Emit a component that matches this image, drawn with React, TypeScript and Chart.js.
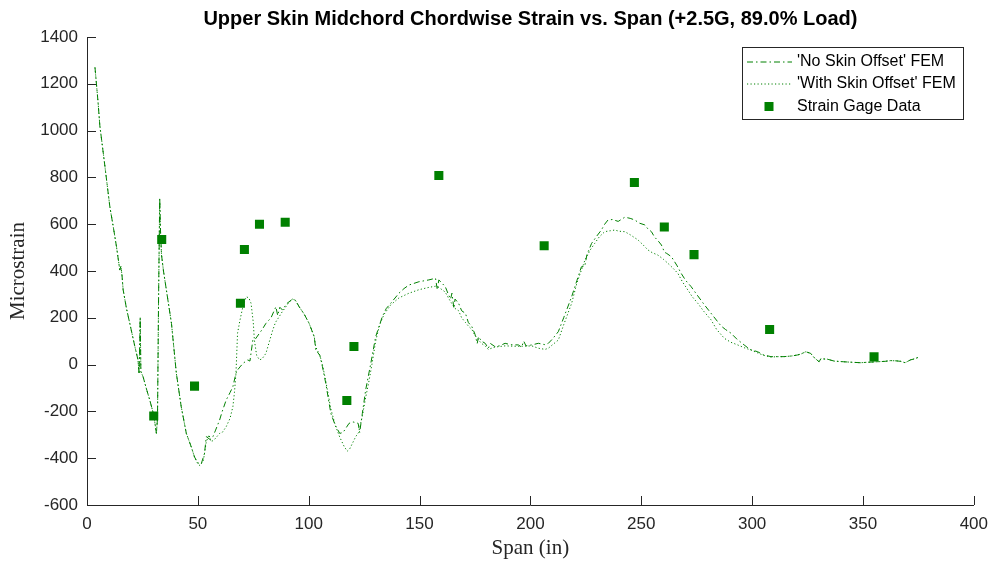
import React, { useEffect, useRef } from "react";
import { Chart, registerables } from "chart.js";

Chart.register(...registerables);

const TITLE = "Upper Skin Midchord Chordwise Strain vs. Span (+2.5G, 89.0% Load)";
const X_LABEL = "Span (in)";
const Y_LABEL = "Microstrain";
const LEGEND_LABELS = ["'No Skin Offset' FEM", "'With Skin Offset' FEM", "Strain Gage Data"];

const xTicks = [0, 50, 100, 150, 200, 250, 300, 350, 400];
const yTicks = [-600, -400, -200, 0, 200, 400, 600, 800, 1000, 1200, 1400];

const spanNoOffset = [
  3.6, 5.0, 5.8, 7.0, 8.1, 10.3, 12.0, 13.3, 14.8, 15.3, 15.8, 16.3, 17.8, 19.3, 21.6, 23.0, 23.5, 24.0, 24.3, 25.3,
  27.0, 28.3, 30.1, 31.3, 31.8, 32.3, 32.8, 33.2, 33.6, 34.5, 35.8, 38.1, 40.3, 42.5, 44.8, 47.0, 48.5, 50.0, 51.5, 53.0,
  53.8, 55.5, 56.8, 58.0, 59.8, 61.0, 62.8, 64.5, 65.8, 67.2, 67.9, 69.0, 70.3, 72.5, 73.5, 74.8, 76.0, 77.8, 79.0, 80.7,
  83.0, 85.2, 86.0, 87.0, 88.2, 90.0, 92.7, 94.0, 95.7, 98.0, 100.2, 102.5, 103.2, 105.0, 106.2, 107.7, 110.0, 112.0, 114.0, 115.5,
  118.2, 120.0, 122.3, 123.0, 124.2, 125.7, 128.0, 130.2, 133.2, 135.0, 137.0, 140.7, 143.0, 145.2, 149.7, 154.2, 157.2, 158.0, 158.7, 161.6,
  163.0, 164.0, 164.6, 165.5, 166.0, 167.6, 169.0, 170.7, 172.0, 173.6, 175.0, 176.0, 176.6, 178.0, 179.6, 181.0, 182.0, 184.0, 186.0, 188.6,
  191.0, 194.6, 196.0, 197.0, 198.0, 200.6, 203.6, 206.6, 208.1, 210.0, 212.6, 215.0, 218.6, 221.0, 223.0, 224.5, 225.5, 227.6, 230.0, 232.0,
  233.5, 235.0, 237.0, 239.6, 242.6, 245.0, 247.1, 249.0, 251.6, 253.0, 254.6, 256.0, 257.5, 259.1, 260.5, 261.5, 263.6, 266.0, 268.0, 270.0,
  272.5, 275.0, 278.5, 281.0, 284.5, 286.0, 288.0, 290.5, 293.0, 296.4, 299.0, 302.5, 305.0, 308.5, 311.5, 314.4, 318.0, 320.4, 322.0, 324.2,
  326.4, 328.0, 330.2, 331.0, 334.0, 337.0, 341.4, 345.0, 348.9, 352.0, 356.4, 360.0, 362.4, 365.0, 367.0, 369.0, 371.4, 373.0, 375.0,
];
const strainNoOffset = [
  1270, 1120, 1020, 930, 846, 675, 580, 504, 404, 420, 380, 320, 240, 176, 77, 20, -40, 200, -30, -52,
  -110, -151, -215, -294, -230, 300, 710, 560, 470, 400, 319, 176, -37, -180, -294, -351, -395, -420, -425, -380,
  -308, -320, -308, -280, -237, -200, -151, -120, -94, -37, -23, -10, 5, 20, 15, 105, 110, 134, 150, 176,
  200, 247, 210, 245, 233, 260, 280, 275, 247, 215, 176, 119, 62, 40, -9, -80, -209, -260, -294, -290,
  -251, -245, -251, -290, -208, -108, 5, 119, 205, 240, 262, 305, 325, 340, 354, 362, 369, 320, 362, 333,
  300, 280, 305, 240, 280, 262, 230, 219, 180, 162, 130, 90, 119, 100, 91, 70, 90, 77, 80, 91,
  85, 84, 75, 100, 80, 84, 91, 85, 91, 110, 141, 200, 290, 360, 418, 420, 470, 518, 550, 575,
  600, 618, 620, 612, 630, 625, 618, 605, 597, 580, 568, 545, 530, 511, 480, 475, 461, 425, 390, 360,
  333, 300, 255, 225, 183, 165, 150, 134, 110, 84, 65, 55, 42, 34, 34, 34, 37, 41, 45, 55,
  48, 30, 12, 25, 23, 15, 12, 10, 8, 10, 12, 14, 17, 16, 14, 8, 20, 24, 31,
];

const spanWithOffset = [
  3.6, 5.0, 5.8, 7.0, 8.1, 10.3, 12.0, 13.3, 14.8, 15.3, 15.8, 16.3, 17.8, 19.3, 21.6, 23.0, 23.5, 24.0, 24.3, 25.3,
  27.0, 28.3, 30.1, 31.3, 31.8, 32.3, 32.8, 33.2, 33.6, 34.5, 35.8, 38.1, 40.3, 42.5, 44.8, 47.0, 48.5, 50.0, 51.0, 52.5,
  53.8, 55.0, 56.0, 57.5, 59.8, 61.0, 62.8, 64.5, 65.8, 66.5, 67.2, 67.9, 69.0, 70.3, 71.8, 73.0, 74.0, 75.0, 75.5, 76.5,
  77.8, 79.0, 80.7, 82.0, 83.8, 85.0, 86.7, 88.0, 89.7, 91.0, 92.7, 94.0, 95.7, 98.0, 100.2, 102.5, 103.2, 105.0, 106.2, 107.7,
  110.0, 112.0, 114.0, 116.0, 117.4, 118.5, 121.2, 122.5, 124.2, 125.7, 127.0, 128.5, 130.2, 132.0, 134.0, 137.0, 140.7, 145.2, 149.7, 154.2,
  157.2, 158.7, 161.6, 163.0, 164.6, 166.0, 167.6, 169.0, 170.7, 172.0, 173.6, 175.0, 176.6, 178.0, 179.6, 181.0, 184.0, 188.6, 194.6, 200.6,
  203.6, 206.6, 208.1, 210.0, 212.6, 215.0, 218.6, 221.0, 224.6, 227.0, 229.0, 231.0, 233.5, 236.0, 238.0, 240.0, 242.6, 245.0, 248.5, 251.0,
  253.0, 255.0, 257.5, 260.0, 262.0, 264.0, 266.5, 268.5, 271.0, 273.0, 275.5, 278.0, 281.5, 284.0, 287.5, 290.5, 293.5, 296.5, 299.5, 302.5,
  305.0, 308.5, 311.5, 314.4, 318.0, 320.4, 322.0, 324.2, 326.4, 328.0, 330.2, 331.0, 334.0, 337.0, 341.4, 345.0, 348.9, 352.0, 356.4, 360.0,
  362.4, 365.0, 367.0, 369.0, 371.4, 373.0, 375.0,
];
const strainWithOffset = [
  1270, 1120, 1020, 930, 846, 675, 580, 504, 404, 420, 380, 320, 240, 176, 77, 20, -40, 200, -30, -52,
  -110, -151, -215, -294, -230, 300, 710, 560, 470, 400, 319, 176, -37, -180, -294, -351, -395, -425, -432, -410,
  -330, -300, -330, -320, -294, -290, -265, -230, -180, -120, -37, 134, 190, 247, 290, 285, 262, 180, 105, 40,
  20, 25, 48, 90, 148, 180, 205, 225, 247, 265, 280, 275, 247, 215, 176, 119, 75, 40, 0, -70,
  -190, -260, -310, -350, -370, -360, -308, -290, -220, -140, -80, 0, 100, 170, 215, 255, 285, 305, 320, 330,
  335, 330, 310, 285, 260, 240, 230, 200, 180, 165, 150, 125, 105, 90, 80, 65, 75, 80, 78, 80,
  70, 65, 70, 85, 105, 170, 262, 350, 447, 490, 518, 545, 568, 572, 575, 570, 568, 555, 533, 510,
  490, 478, 468, 450, 433, 415, 390, 355, 319, 290, 262, 230, 191, 150, 112, 95, 84, 72, 62, 50,
  40, 32, 34, 34, 37, 41, 45, 55, 48, 30, 12, 25, 23, 15, 12, 10, 8, 10, 12, 14,
  17, 16, 14, 8, 20, 24, 31,
];

const spanGage = [30.1, 33.7, 48.5, 69.2, 71.0, 77.8, 89.4, 117.2, 120.4, 158.7, 206.2, 246.9, 260.4, 273.8, 307.9, 355.0];
const strainGage = [-220, 535, -92, 262, 492, 600, 608, -153, 77, 808, 508, 778, 588, 470, 150, 33];

const GREEN = "#008000";
const AXIS = "#262626";
const SANS = "'Liberation Sans', Arial, Helvetica, sans-serif";
const SERIF = "'Liberation Serif', 'Times New Roman', serif";

const toPoints = (xs: number[], ys: number[]) => xs.map((x, i) => ({ x, y: ys[i] }));

const decorPlugin = {
  id: "decor",
  afterDatasetsDraw(chart: any) {
    const { ctx, chartArea, scales } = chart;
    const xs = scales.x;
    const ys = scales.y;
    ctx.save();
    // inward ticks
    ctx.strokeStyle = AXIS;
    ctx.lineWidth = 1;
    ctx.beginPath();
    xTicks.forEach((v) => {
      const px = Math.round(xs.getPixelForValue(v)) + 0.5;
      ctx.moveTo(px, chartArea.bottom);
      ctx.lineTo(px, chartArea.bottom - 9);
    });
    yTicks.forEach((v) => {
      const py = Math.round(ys.getPixelForValue(v)) + 0.5;
      ctx.moveTo(chartArea.left, py);
      ctx.lineTo(chartArea.left + 9, py);
    });
    ctx.stroke();

    // title
    ctx.fillStyle = "#000";
    ctx.font = `bold 20px ${SANS}`;
    ctx.textAlign = "center";
    ctx.textBaseline = "middle";
    ctx.fillText(TITLE, (chartArea.left + chartArea.right) / 2, 19);

    // legend
    const lx = 742, ly = 47, lw = 221, lh = 72;
    ctx.fillStyle = "#fff";
    ctx.fillRect(lx, ly, lw, lh);
    ctx.strokeStyle = AXIS;
    ctx.strokeRect(lx + 0.5, ly + 0.5, lw, lh);
    const rows = [62, 84, 106.5];
    ctx.strokeStyle = GREEN;
    ctx.lineWidth = 1;
    ctx.setLineDash([6, 3, 1.5, 3]);
    ctx.beginPath();
    ctx.moveTo(747, rows[0]);
    ctx.lineTo(792, rows[0]);
    ctx.stroke();
    ctx.setLineDash([1.2, 2.3]);
    ctx.beginPath();
    ctx.moveTo(747, rows[1]);
    ctx.lineTo(792, rows[1]);
    ctx.stroke();
    ctx.setLineDash([]);
    ctx.fillStyle = GREEN;
    ctx.fillRect(769 - 4.5, rows[2] - 4.5, 9, 9);
    ctx.fillStyle = "#000";
    ctx.font = `16px ${SANS}`;
    ctx.textAlign = "left";
    LEGEND_LABELS.forEach((t, i) => ctx.fillText(t, 797, rows[i]));
    ctx.restore();
  },
};

export default function App() {
  const canvasRef = useRef<HTMLCanvasElement | null>(null);

  useEffect(() => {
    if (!canvasRef.current) return;
    const chart = new Chart(canvasRef.current, {
      type: "scatter",
      data: {
        datasets: [
          {
            label: LEGEND_LABELS[0],
            data: toPoints(spanNoOffset, strainNoOffset),
            showLine: true,
            borderColor: GREEN,
            borderWidth: 1,
            borderDash: [6, 3, 1.5, 3],
            pointRadius: 0,
            tension: 0,
          },
          {
            label: LEGEND_LABELS[1],
            data: toPoints(spanWithOffset, strainWithOffset),
            showLine: true,
            borderColor: GREEN,
            borderWidth: 1,
            borderDash: [1.2, 2.3],
            pointRadius: 0,
            tension: 0,
          },
          {
            label: LEGEND_LABELS[2],
            data: toPoints(spanGage, strainGage),
            showLine: false,
            pointStyle: "rect",
            pointRadius: 6.4,
            backgroundColor: GREEN,
            borderColor: GREEN,
            borderWidth: 0,
          },
        ],
      },
      options: {
        animation: false,
        responsive: false,
        events: [],
        layout: { padding: { top: 37, right: 20, left: 0, bottom: 0 } },
        plugins: {
          legend: { display: false },
          title: { display: false },
          tooltip: { enabled: false },
        },
        scales: {
          x: {
            type: "linear",
            min: 0,
            max: 400,
            afterFit: (s: any) => {
              s.height = 57;
            },
            afterBuildTicks: (s: any) => {
              s.ticks = xTicks.map((v) => ({ value: v }));
            },
            ticks: {
              color: AXIS,
              font: { family: SANS, size: 17 },
              padding: 9,
              maxRotation: 0,
              callback: (v: any) => String(v),
            },
            grid: { display: false, drawTicks: false },
            border: { display: true, color: AXIS, width: 1 },
            title: {
              display: true,
              text: X_LABEL,
              color: AXIS,
              font: { family: SERIF, size: 21 },
              padding: { top: 0, bottom: 1 },
            },
          },
          y: {
            type: "linear",
            min: -600,
            max: 1400,
            afterFit: (s: any) => {
              s.width = 87;
            },
            afterBuildTicks: (s: any) => {
              s.ticks = yTicks.map((v) => ({ value: v }));
            },
            ticks: {
              color: AXIS,
              font: { family: SANS, size: 17 },
              padding: 9,
              callback: (v: any) => String(v),
            },
            grid: { display: false, drawTicks: false },
            border: { display: true, color: AXIS, width: 1 },
            title: {
              display: true,
              text: Y_LABEL,
              color: AXIS,
              font: { family: SERIF, size: 21 },
              padding: { top: 6, bottom: 0 },
            },
          },
        },
      },
      plugins: [decorPlugin],
    } as any);
    return () => chart.destroy();
  }, []);

  return (
    <div style={{ position: "fixed", left: 0, top: 0, width: 997, height: 562, background: "#fff" }}>
      <canvas ref={canvasRef} width={997} height={562} style={{ display: "block" }} />
    </div>
  );
}
